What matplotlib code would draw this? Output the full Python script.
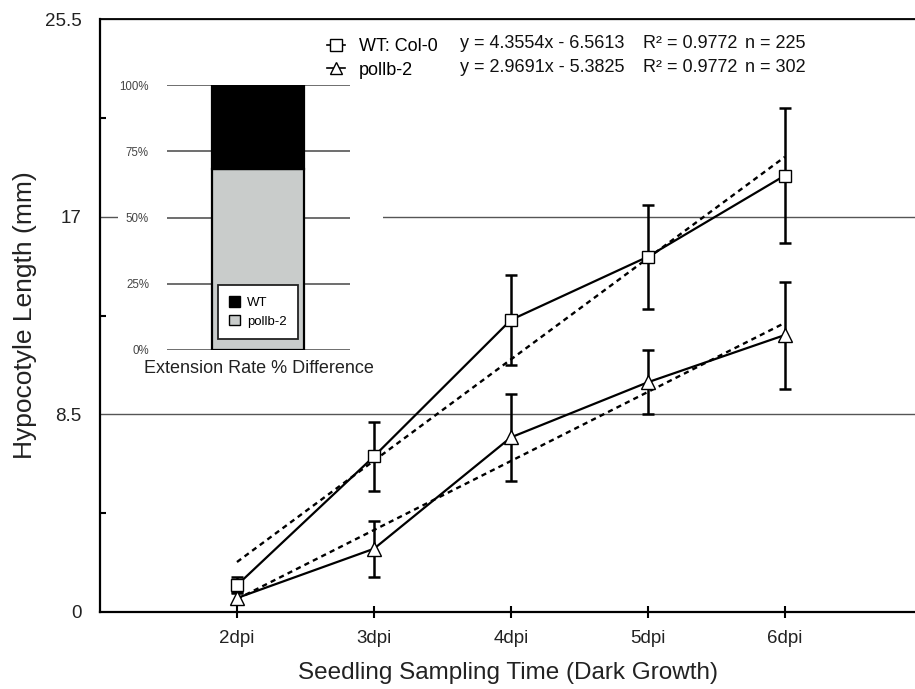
import matplotlib.pyplot as plt
from matplotlib.lines import Line2D
from matplotlib.patches import Patch, Rectangle

plt.rcParams['font.family'] = ['Liberation Sans', 'DejaVu Sans']

# Data
days = [2, 3, 4, 5, 6]
day_labels = ['2dpi', '3dpi', '4dpi', '5dpi', '6dpi']

wt_mean = [1.15, 6.69, 12.56, 15.28, 18.77]
wt_err = [0.35, 1.47, 1.94, 2.24, 2.89]
pol_mean = [0.60, 2.72, 7.51, 9.88, 11.91]
pol_err = [0.25, 1.21, 1.86, 1.38, 2.30]

wt_fit = (4.3554, -6.5613)
pol_fit = (2.9691, -5.3825)
r2_values = [0.9772, 0.9772]
n_values = [225, 302]

inset_labels = ['WT', 'pollb-2']
inset_share = [31.8, 68.2]  # % of extension rate

fig = plt.figure(figsize=(9.15, 6.89), dpi=100)
W, H = 915, 689
ax = fig.add_axes([100 / W, (H - 612) / H, 815 / W, (612 - 19) / H])

# main series
for mean, err, mk in [(wt_mean, wt_err, 's'), (pol_mean, pol_err, '^')]:
    ax.errorbar(days, mean, yerr=err, color='black', lw=1.6, elinewidth=1.8,
                capsize=4.5, capthick=1.8, zorder=4)
    ax.plot(days, mean, ls='none', marker=mk, ms=10 if mk == '^' else 9,
            mfc='white', mec='black', mew=1.0, zorder=5)

# fit lines
for slope, icpt in [wt_fit, pol_fit]:
    fx = [days[0], days[-1]]
    ax.plot(fx, [slope * x + icpt for x in fx], color='black', lw=1.7,
            ls=(0, (2.2, 1.8)), zorder=3)

ax.set_xlim(1, 6.95)
ax.set_ylim(0, 25.5)
ax.set_xticks(days)
ax.set_xticklabels(day_labels)
ax.set_yticks([0, 8.5, 17, 25.5])
ax.set_yticklabels(['0', '8.5', '17', '25.5'])
ax.set_yticks([4.25, 12.75, 21.25], minor=True)
ax.tick_params(axis='x', direction='inout', length=8, width=1.5, labelsize=13.5,
               pad=9, labelcolor='#222222')
ax.tick_params(axis='y', which='major', length=0, labelsize=13.5, pad=13.5,
               labelcolor='#222222')
ax.tick_params(axis='y', which='minor', direction='in', length=4, width=1.5)
ax.yaxis.grid(True, color='#555555', lw=1.0)
ax.set_axisbelow(True)
for s in ['left', 'bottom']:
    ax.spines[s].set_linewidth(1.6)
ax.spines['top'].set_linewidth(1.3)
ax.spines['right'].set_visible(False)

ax.set_xlabel('Seedling Sampling Time (Dark Growth)', fontsize=17.5, labelpad=11, color='#222222')
ax.set_ylabel('Hypocotyle Length (mm)', fontsize=19, color='#222222')
ax.yaxis.set_label_coords(-0.0773, 0.5)

# legend with equations
handles = [Line2D([], [], color='black', lw=1.2, marker='s', ms=8, mfc='white', mec='black'),
           Line2D([], [], color='black', lw=1.2, marker='^', ms=9, mfc='white', mec='black')]
ax.legend(handles, ['WT: Col-0', 'pollb-2'], loc='upper left', bbox_to_anchor=(0.279, 0.968),
          frameon=False, fontsize=13, handlelength=1.0, handletextpad=0.75,
          labelspacing=0.37, borderpad=0, borderaxespad=0)
for i, (slope, icpt) in enumerate([wt_fit, pol_fit]):
    yy = 0.958 - i * 0.039
    ax.text((460 - 100) / 815, yy, f'y = {slope:.4f}x - {abs(icpt):.4f}',
            transform=ax.transAxes, fontsize=13, va='center', color='#111111')
    ax.text((643 - 100) / 815, yy, f'R² = {r2_values[i]:.4f}',
            transform=ax.transAxes, fontsize=13, va='center', color='#111111')
    ax.text((745 - 100) / 815, yy, f'n = {n_values[i]}',
            transform=ax.transAxes, fontsize=13, va='center', color='#111111')

# white area behind the inset
ax.add_patch(Rectangle(((118 - 100) / 815, (612 - 392) / 593), (383 - 118) / 815, (392 - 78) / 593,
                       transform=ax.transAxes, facecolor='white', edgecolor='none', zorder=2))

# inset stacked bar
ins = fig.add_axes([167 / W, (H - 350) / H, 183 / W, 265 / H])
ins.set_xlim(0, 1)
ins.set_ylim(0, 100)
ins.bar(0.497, inset_share[1], width=0.503, color='#c9cccb', edgecolor='black', lw=1.6,
        label=inset_labels[1], zorder=3)
ins.bar(0.497, inset_share[0], bottom=inset_share[1], width=0.503, color='black',
        edgecolor='black', lw=1.6, label=inset_labels[0], zorder=3)
ins.set_yticks([0, 25, 50, 75, 100])
ins.set_yticklabels(['0%', '25%', '50%', '75%', '100%'])
ins.tick_params(axis='y', length=0, labelsize=8.3, labelcolor='#444444', pad=13)
ins.set_xticks([])
ins.yaxis.grid(True, color='#555555', lw=1.2)
ins.set_axisbelow(True)
for s in ins.spines.values():
    s.set_visible(False)
ins.patch.set_alpha(0)
ins.set_xlabel('Extension Rate % Difference', fontsize=13, labelpad=7, color='#222222')
leg = ins.legend([Patch(facecolor='black', edgecolor='black'),
                  Patch(facecolor='#c9cccb', edgecolor='black')], inset_labels,
                 loc='lower center', bbox_to_anchor=(0.497, 0.042), fontsize=9.5,
                 fancybox=False, edgecolor='#222222', framealpha=1,
                 handlelength=0.85, handleheight=0.85, handletextpad=0.55,
                 borderpad=0.85, labelspacing=0.45, borderaxespad=0)
leg.get_frame().set_linewidth(1.3)
leg.set_zorder(5)

fig.savefig('out.png', dpi=100)
